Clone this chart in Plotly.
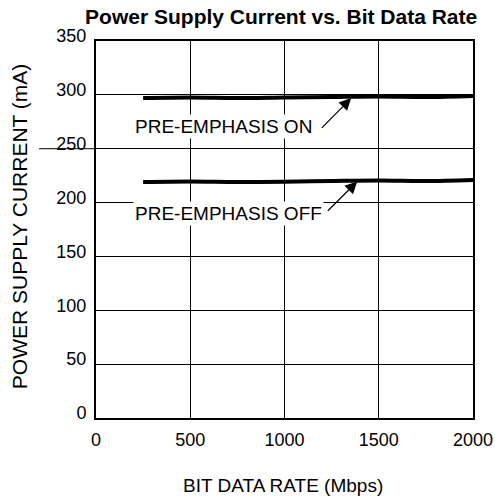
import plotly.graph_objects as go

rate_on = [250, 500, 750, 1000, 1250, 1500, 1750, 2000]
current_on = [297.0, 297.5, 297.0, 297.5, 298.0, 298.5, 298.0, 299.0]
rate_off = [250, 500, 750, 1000, 1250, 1500, 1750, 2000]
current_off = [219.0, 219.5, 219.0, 219.3, 220.0, 220.5, 220.0, 221.0]
x_ticks = [0, 500, 1000, 1500, 2000]
y_ticks = [0, 50, 100, 150, 200, 250, 300, 350]

font = "Liberation Sans, Arial, sans-serif"
fig = go.Figure()
fig.add_trace(go.Scatter(x=rate_on, y=current_on, mode="lines", line=dict(color="black", width=4, shape="spline")))
fig.add_trace(go.Scatter(x=rate_off, y=current_off, mode="lines", line=dict(color="black", width=4, shape="spline")))

fig.add_annotation(x=196, y=271, xref="x", yref="y", text="PRE-EMPHASIS ON", showarrow=False,
                   xanchor="left", yanchor="middle", font=dict(family=font, size=19, color="black"),
                   bgcolor="white", borderpad=1)
fig.add_annotation(x=196, y=189.5, xref="x", yref="y", text="PRE-EMPHASIS OFF", showarrow=False,
                   xanchor="left", yanchor="middle", font=dict(family=font, size=19, color="black"),
                   bgcolor="white", borderpad=1)
fig.add_annotation(x=1354, y=297, ax=1190, ay=268, xref="x", yref="y", axref="x", ayref="y",
                   text="", showarrow=True, arrowhead=2, arrowsize=2, arrowwidth=1.2, arrowcolor="black")
fig.add_annotation(x=1386, y=219.5, ax=1222, ay=191, xref="x", yref="y", axref="x", ayref="y",
                   text="", showarrow=True, arrowhead=2, arrowsize=2, arrowwidth=1.2, arrowcolor="black")

fig.add_annotation(x=0.497, y=-0.180, xref="paper", yref="paper", text="BIT DATA RATE (Mbps)",
                   showarrow=False, xanchor="center", yanchor="middle",
                   font=dict(family=font, size=19, color="black"))
fig.add_annotation(x=-0.204, y=0.509, xref="paper", yref="paper", text="POWER SUPPLY CURRENT (mA)",
                   showarrow=False, xanchor="center", yanchor="middle", textangle=-90,
                   font=dict(family=font, size=21, color="black"))

fig.add_shape(type="line", xref="paper", yref="y", x0=-0.151, x1=0, y0=250, y1=250,
              line=dict(color="black", width=1))

fig.update_layout(
    width=495, height=502,
    margin=dict(l=96, r=22, t=41, b=84),
    paper_bgcolor="white", plot_bgcolor="white",
    showlegend=False,
    font=dict(family=font, size=18, color="black"),
    title=dict(text="<b>Power Supply Current vs. Bit Data Rate</b>", x=0.568, xanchor="center",
               xref="container", yref="container", y=0.966, yanchor="middle",
               font=dict(family=font, size=21, color="black")),
)
fig.update_xaxes(range=[0, 2000], tickvals=x_ticks, ticks="", showgrid=True, gridcolor="black", gridwidth=1,
                 showline=True, linecolor="black", linewidth=2, mirror=True, zeroline=False,
                 automargin=False, ticklabelstandoff=4, tickfont=dict(size=18))
fig.update_yaxes(range=[0, 350], tickvals=y_ticks, ticks="", showgrid=True, gridcolor="black", gridwidth=1,
                 showline=True, linecolor="black", linewidth=2, mirror=True, zeroline=False,
                 automargin=False, ticklabelstandoff=4, ticklabelshift=-5, tickfont=dict(size=18))

fig.write_html("out.html", config={"displayModeBar": False},
               post_script="document.body.style.margin='0';document.body.style.overflow='hidden';")
